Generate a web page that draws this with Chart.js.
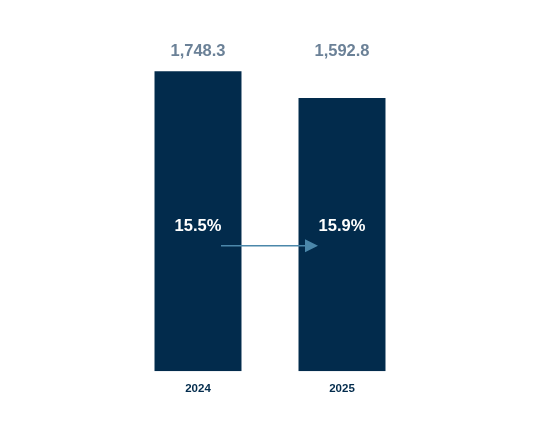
<!DOCTYPE html>
<html>
<head>
<meta charset="utf-8">
<script src="https://cdn.jsdelivr.net/npm/chart.js@4"></script>
<style>
  html, body { margin: 0; padding: 0; background: #fff; }
  #wrap { width: 540px; height: 438px; position: relative; }
</style>
</head>
<body>
<div id="wrap"><canvas id="chart"></canvas></div>
<script>
// data
const years = ['2024', '2025'];
const totals = [1748.3, 1592.8];
const margins = [15.5, 15.9];

const NAVY = '#022b4c';
const LABEL_GREY = '#6b8197';
const ARROW = '#4b87aa';

// totals in a row above the bars, margin inside, arrow between the two margins
const barLabels = {
  id: 'barLabels',
  afterDatasetsDraw(chart) {
    const ctx = chart.ctx;
    const meta = chart.getDatasetMeta(0);
    const area = chart.chartArea;
    const h = area.bottom - area.top;
    const topY = area.top + h * 0.068;
    const midY = area.top + h * 0.577;

    ctx.save();
    ctx.textAlign = 'center';
    ctx.textBaseline = 'middle';
    meta.data.forEach((bar, i) => {
      ctx.font = 'bold 16.5px "Liberation Sans", Arial, sans-serif';
      ctx.fillStyle = LABEL_GREY;
      ctx.fillText(totals[i].toLocaleString('en-US', {minimumFractionDigits: 1}), bar.x, topY);
      ctx.fillStyle = '#ffffff';
      ctx.fillText(margins[i].toFixed(1) + '%', bar.x, midY);
    });

    // arrow
    const a = meta.data[0], b = meta.data[1];
    const ay = midY + 19.7;
    const x1 = a.x + 23, x2 = b.x - 24;
    ctx.strokeStyle = ARROW;
    ctx.fillStyle = ARROW;
    ctx.lineWidth = 1.5;
    ctx.beginPath();
    ctx.moveTo(x1, ay);
    ctx.lineTo(x2 - 10, ay);
    ctx.stroke();
    ctx.beginPath();
    ctx.moveTo(x2 - 13, ay - 6.5);
    ctx.lineTo(x2, ay);
    ctx.lineTo(x2 - 13, ay + 6.5);
    ctx.closePath();
    ctx.fill();
    ctx.restore();
  }
};

new Chart(document.getElementById('chart'), {
  type: 'bar',
  data: {
    labels: years,
    datasets: [{
      data: totals,
      backgroundColor: NAVY,
      borderWidth: 0,
      categoryPercentage: 1,
      barPercentage: 0.604
    }]
  },
  options: {
    responsive: true,
    maintainAspectRatio: false,
    animation: false,
    devicePixelRatio: 1,
    layout: { padding: { left: 126, right: 126, top: 28, bottom: 31 } },
    plugins: {
      legend: { display: false },
      tooltip: { enabled: false }
    },
    scales: {
      x: {
        grid: { display: false, drawTicks: false },
        border: { display: false },
        ticks: {
          color: NAVY,
          padding: 11,
          font: { family: '"Liberation Sans", Arial, sans-serif', size: 11.5, weight: 'bold' }
        }
      },
      y: {
        display: false,
        min: 0,
        max: 2000
      }
    }
  },
  plugins: [barLabels]
});
</script>
</body>
</html>
